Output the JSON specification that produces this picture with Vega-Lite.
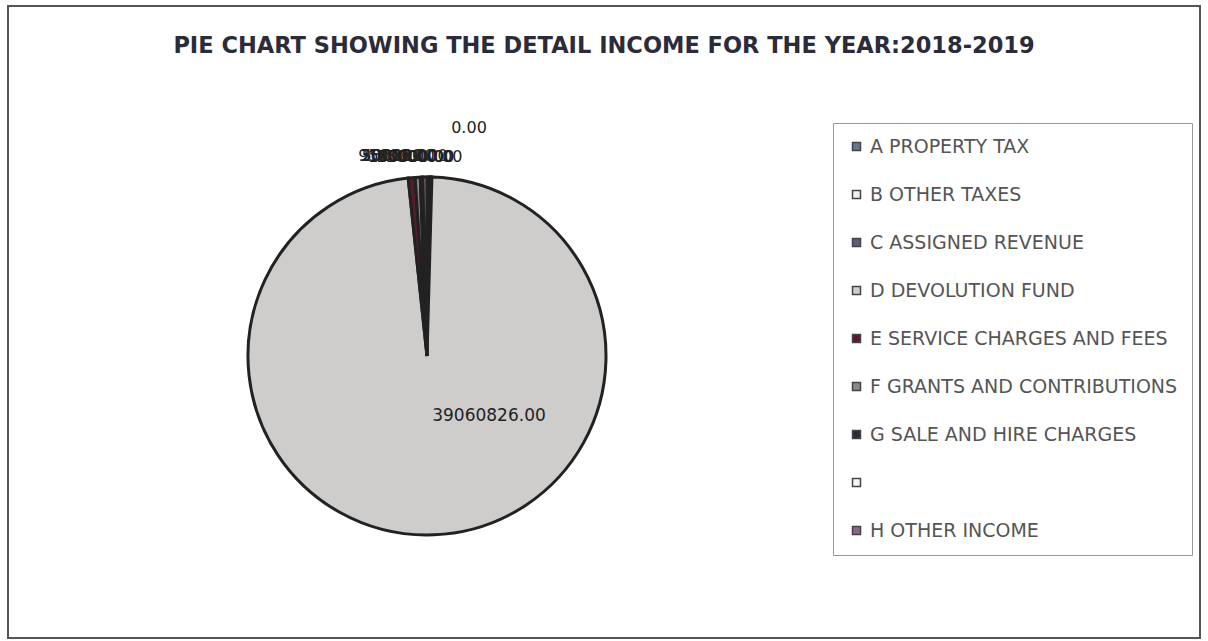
{
  "$schema": "https://vega.github.io/schema/vega-lite/v6.json",
  "autosize": "none",
  "width": 1192,
  "height": 632,
  "padding": {"left": 8, "top": 6, "right": 8, "bottom": 3},
  "background": "white",
  "view": {"stroke": "#555555", "strokeWidth": 2},
  "title": {
    "text": "PIE CHART SHOWING THE DETAIL INCOME FOR THE YEAR:2018-2019",
    "font": "DejaVu Sans",
    "fontSize": 22.5,
    "fontWeight": "bold",
    "color": "#2b2b3a",
    "anchor": "middle",
    "offset": -51
  },
  "config": {
    "view": {"stroke": "#555555", "strokeWidth": 2},
    "font": "DejaVu Sans"
  },
  "data": {
    "values": [
      {"category": "A PROPERTY TAX", "value": 95000, "order": 1},
      {"category": "B OTHER TAXES", "value": 30000, "order": 2},
      {"category": "C ASSIGNED REVENUE", "value": 50000, "order": 3},
      {"category": "D DEVOLUTION FUND", "value": 39060826, "order": 4},
      {"category": "E SERVICE CHARGES AND FEES", "value": 250000, "order": 5},
      {"category": "F GRANTS AND CONTRIBUTIONS", "value": 180000, "order": 6},
      {"category": "G SALE AND HIRE CHARGES", "value": 90000, "order": 7},
      {"category": " ", "value": 0, "order": 8},
      {"category": "H OTHER INCOME", "value": 150000, "order": 9}
    ]
  },
  "encoding": {
    "theta": {"field": "value", "type": "quantitative", "stack": true},
    "order": {"field": "order", "type": "quantitative"}
  },
  "layer": [
    {
      "mark": {"type": "arc", "x": 419, "y": 350, "outerRadius": 179, "stroke": "#222222", "strokeWidth": 3},
      "encoding": {
        "color": {
          "field": "category",
          "type": "nominal",
          "sort": null,
          "scale": {
            "domain": ["A PROPERTY TAX", "B OTHER TAXES", "C ASSIGNED REVENUE", "D DEVOLUTION FUND", "E SERVICE CHARGES AND FEES", "F GRANTS AND CONTRIBUTIONS", "G SALE AND HIRE CHARGES", " ", "H OTHER INCOME"],
            "range": ["#6b7590", "#f0f0f0", "#5e5a78", "#cfcccc", "#5a1a2a", "#8a8a8a", "#2a2a35", "#f5f5f5", "#8a6a80"]
          },
          "legend": {
            "title": null,
            "orient": "none",
            "legendX": 825,
            "legendY": 117,
            "direction": "vertical",
            "padding": 14,
            "strokeColor": "#999999",
            "fillColor": "white",
            "symbolType": "square",
            "symbolSize": 64,
            "symbolStrokeColor": "#444444",
            "symbolStrokeWidth": 1.5,
            "labelFont": "DejaVu Sans",
            "labelFontSize": 19,
            "labelColor": "#555555",
            "labelLimit": 420,
            "labelOffset": 4,
            "rowPadding": 28
          }
        }
      }
    },
    {
      "transform": [{"filter": "datum.value > 10000000"}],
      "mark": {"type": "text", "x": 419, "y": 350, "radius": 60, "dx": 58, "fontSize": 17, "font": "DejaVu Sans", "color": "#222222"},
      "encoding": {
        "text": {"field": "value", "type": "quantitative", "format": ".2f"}
      }
    },
    {
      "transform": [{"filter": "datum.value < 10000000 && datum.value > 0"}],
      "mark": {"type": "text", "x": 419, "y": 350, "radius": 200, "dx": -32, "fontSize": 16, "font": "DejaVu Sans", "color": "#222222"},
      "encoding": {
        "text": {"field": "value", "type": "quantitative", "format": ".2f"}
      }
    },
    {
      "transform": [{"filter": "datum.value == 0"}],
      "mark": {"type": "text", "x": 419, "y": 350, "radius": 200, "dx": 42, "dy": -28, "fontSize": 16, "font": "DejaVu Sans", "color": "#222222"},
      "encoding": {
        "text": {"field": "value", "type": "quantitative", "format": ".2f"}
      }
    }
  ]
}
